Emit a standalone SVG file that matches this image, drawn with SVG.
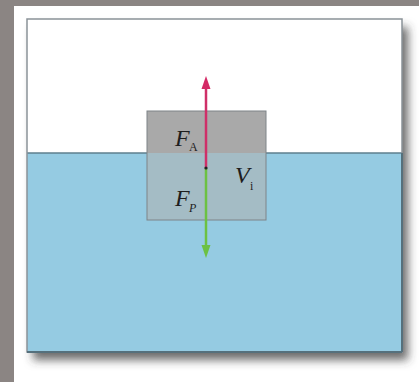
<svg xmlns="http://www.w3.org/2000/svg" width="419" height="382" viewBox="0 0 419 382">
<defs>
<filter id="sh" x="-10%" y="-10%" width="130%" height="130%">
<feDropShadow dx="6" dy="8" stdDeviation="5" flood-color="#3a3a3a" flood-opacity="0.75"/>
</filter>
<style>
.lbl{font-family:"Liberation Serif","DejaVu Serif",serif;font-style:italic;font-size:24px;fill:#1e1e1e}
.sub{font-family:"Liberation Serif","DejaVu Serif",serif;font-size:12px;fill:#1e1e1e}
</style>
</defs>
<rect x="0" y="0" width="419" height="382" fill="#8b8583"/>
<rect x="14" y="6" width="405" height="376" fill="#ffffff"/>
<g id="tank">
<rect x="27" y="19" width="375" height="333" fill="#ffffff" filter="url(#sh)"/>
<rect x="27" y="153" width="375" height="199" fill="#95cbe2"/>
<line x1="27" y1="153" x2="402" y2="153" stroke="#5e7f8e" stroke-width="1.5"/>
<rect x="27" y="19" width="375" height="333" fill="none" stroke="#8a9298" stroke-width="1.5"/>
<line x1="27" y1="352" x2="402" y2="352" stroke="#55707c" stroke-width="2"/>
<line x1="402" y1="153" x2="402" y2="352" stroke="#55707c" stroke-width="2"/>
</g>
<g id="block">
<rect x="147" y="111" width="119" height="42" fill="#a9a9a9"/>
<rect x="147" y="153" width="119" height="67" fill="#a4bcc5"/>
<rect x="147" y="111" width="119" height="109" fill="none" stroke="#7e8488" stroke-width="1"/>
</g>
<g id="connectors">
<line x1="206" y1="168" x2="206" y2="88" stroke="#cf2f68" stroke-width="2.5"/>
<polygon points="206,76 201.5,89 210.5,89" fill="#d42a66"/>
<line x1="206" y1="168" x2="206" y2="247" stroke="#6cc143" stroke-width="2.5"/>
<polygon points="206,258 201.5,245 210.5,245" fill="#6cc143"/>
<circle cx="206" cy="168" r="1.6" fill="#222"/>
</g>
<g id="labels">
<text class="lbl" x="175" y="146">F</text><text class="sub" x="189" y="151">A</text>
<text class="lbl" x="175" y="206">F</text><text class="sub" x="189" y="212" font-style="italic">P</text>
<text class="lbl" x="235" y="183">V</text><text class="sub" x="250" y="190">i</text>
</g>
</svg>
